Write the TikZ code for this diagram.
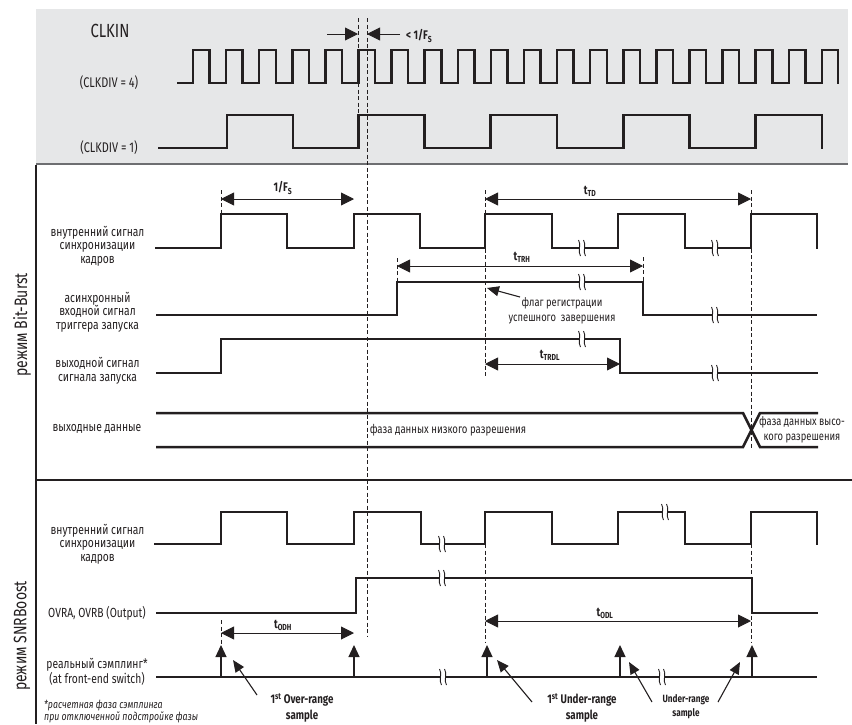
\documentclass[tikz,border=0pt]{standalone}
\usepackage{fontspec}
\setmainfont{Fira Sans}[FakeStretch=0.78]
\usetikzlibrary{arrows.meta}
\definecolor{ink}{HTML}{231F20}
\definecolor{panel}{HTML}{E6E7E8}
\definecolor{rim}{HTML}{6D6E71}
\tikzset{
  wave/.style={ink, line width=2.5pt, line join=miter},
  dimline/.style={ink, line width=0.9pt, {Triangle[length=13pt,width=13pt]}-{Triangle[length=13pt,width=13pt]}},
  dimright/.style={ink, line width=0.9pt, -{Triangle[length=13pt,width=13pt]}},
  guide/.style={ink, line width=0.8pt, dash pattern=on 4pt off 2.5pt},
  sampl/.style={ink, line width=1.3pt, -{Triangle[length=12pt,width=11pt]}},
  annot/.style={ink, line width=1.1pt, -{Triangle[length=12pt,width=10pt]}},
  lbl/.style={ink, font=\fontsize{13.2}{13.6}\selectfont, align=center, inner sep=0pt},
  dlbl/.style={ink, font=\fontsize{12.5}{13}\selectfont\bfseries, inner sep=0pt},
  sidelbl/.style={ink, font=\fontsize{18}{19}\selectfont, rotate=90, inner sep=0pt},
}
\newcommand\brkmark[2]{%
  \fill[white] (#1-3.2,#2-4.5) rectangle (#1+3.2,#2+4.5);
  \draw[ink, line width=0.9pt] (#1-3.5,#2-8) .. controls (#1-0.3,#2-4) and (#1-4.7,#2+4) .. (#1-1.5,#2+8);
  \draw[ink, line width=0.9pt] (#1+1.5,#2-8) .. controls (#1+4.7,#2-4) and (#1+0.3,#2+4) .. (#1+3.5,#2+8);
}
\begin{document}
\begin{tikzpicture}[x=1pt, y=-1pt]
\useasboundingbox (0,0) rectangle (852,724);
% panels
\fill[panel] (36,9) rectangle (848,164);
\draw[rim, line width=2pt] (36,164) -- (848,164);
\draw[ink, line width=1.2pt] (36,165) -- (36,724);
\draw[ink, line width=1.6pt] (36,480) -- (852,480);

% long guides
\draw[guide] (358.3,18) -- (358.3,114);
\draw[guide] (367,18) -- (367,637);

% CLKIN
\node[ink, font=\fontsize{19}{20}\selectfont, inner sep=0pt] (clkin) at (110,31) {CLKIN};
\node[lbl, font=\fontsize{14}{14}\selectfont] (div4) at (109,83) {(CLKDIV = 4)};
\node[lbl, font=\fontsize{14}{14}\selectfont] (div1) at (109,148) {(CLKDIV = 1)};
\draw[wave] (177,83) \foreach \k in {0,...,18} { -- ({193+33.1*\k},83) -- ({193+33.1*\k},50) -- ({209.6+33.1*\k},50) -- ({209.6+33.1*\k},83) } -- (822,83) -- (822,50) -- (838,50) -- (838,84.2);
\draw[wave] (158,148) -- (227,148) -- (227,115) -- (293,115) -- (293,148) -- (358.5,148) -- (358.5,115) -- (424.5,115) -- (424.5,148) -- (490.5,148) -- (490.5,115) -- (557,115) -- (557,148) -- (623.3,148) -- (623.3,115) -- (689.5,115) -- (689.5,148) -- (755.7,148) -- (755.7,115) -- (822,115) -- (822,149.2);
\coordinate (fa1) at (327,34); \coordinate (fa2) at (358,34);
\coordinate (fb1) at (400,34); \coordinate (fb2) at (367,34);
\draw[dimright] (fa1) -- (fa2);
\draw[dimright] (fb1) -- (fb2);
\node[dlbl, anchor=west] (fslbl) at (406,36) {< 1/F\textsubscript{S}};

% ---------- Bit-Burst ----------
\node[sidelbl] (bbside) at (22,325) {режим Bit-Burst};
\node[lbl] (bb1) at (97.5,246) {внутренний сигнал\\синхронизации\\кадров};
\node[lbl] (bb2) at (97.5,312) {асинхронный\\входной сигнал\\триггера запуска};
\node[lbl] (bb3) at (97.5,370.5) {выходной сигнал\\сигнала запуска};
\node[lbl] (bb4) at (97,429) {выходные данные};

\draw[guide] (221,190) -- (221,214);
\draw[guide] (485,190) -- (485,378);
\draw[guide] (751,190) -- (751,448);
\draw[guide] (397,258) -- (397,282);
\draw[guide] (643,257) -- (643,282);

\draw[wave] (155,248) -- (221,248) -- (221,214) -- (287,214) -- (287,248) -- (354,248) -- (354,214) -- (420,214) -- (420,248) -- (485,248) -- (485,214) -- (552,214) -- (552,248) -- (618,248) -- (618,214) -- (685,214) -- (685,248) -- (751,248) -- (751,214) -- (817,214) -- (817,249.2);
\brkmark{582}{248}\brkmark{715}{248}
\draw[wave] (156,315) -- (397,315) -- (397,282) -- (643,282) -- (643,315) -- (817,315);
\brkmark{582}{282}\brkmark{715}{315}
\draw[wave] (156,373) -- (221,373) -- (221,339) -- (620,339) -- (620,373) -- (818,373);
\brkmark{582}{339}\brkmark{715}{373}
\draw[wave] (156,413) -- (743,413) -- (760,447) -- (818,447);
\draw[wave] (156,447) -- (743,447) -- (760,413) -- (818,413);

\coordinate (fs1) at (221,199); \coordinate (fs2) at (354,199);
\draw[dimline] (fs1) -- (fs2);
\node[dlbl] (fslbl2) at (283,188) {1/F\textsubscript{S}};
\coordinate (td1) at (485,199); \coordinate (td2) at (751,199);
\draw[dimline] (td1) -- (td2);
\node[dlbl] (tdlbl) at (590,191) {t\textsubscript{TD}};
\coordinate (trh1) at (397,266); \coordinate (trh2) at (643,266);
\draw[dimline] (trh1) -- (trh2);
\node[dlbl] (trhlbl) at (522,257) {t\textsubscript{TRH}};
\coordinate (trdl1) at (485,364); \coordinate (trdl2) at (620,364);
\draw[dimline] (trdl1) -- (trdl2);
\node[dlbl] (trdllbl) at (550,355) {t\textsubscript{TRDL}};

\node[lbl, font=\fontsize{12}{15}\selectfont] (flag) at (562,310.5) {флаг регистрации\\успешного\ \ завершения};
\coordinate (flagtip) at (487,288);
\draw[annot] (520,297) -- (flagtip);

\node[lbl, font=\fontsize{12.3}{13}\selectfont] (low) at (448,430) {фаза данных низкого разрешения};
\node[lbl, font=\fontsize{12}{14.5}\selectfont] (high) at (802,430) {фаза данных высо-\\кого разрешения};

% ---------- SNRBoost ----------
\node[sidelbl] (snrside) at (22,636) {режим SNRBoost};
\node[lbl] (s1) at (97.5,544) {внутренний сигнал\\синхронизации\\кадров};
\node[lbl] (s2) at (97,613) {OVRA, OVRB (Output)};
\node[lbl] (s3) at (97,671.5) {реальный сэмплинг*\\(at front-end switch)};
\node[lbl, font=\fontsize{11.2}{12}\selectfont\itshape, align=left, anchor=west] (foot) at (44,711) {*расчетная фаза сэмплинга\\при отключенной подстройке фазы};

\draw[guide] (485,544) -- (485,643);
\draw[guide] (751,544) -- (751,643);
\draw[guide] (221,620) -- (221,646);

\draw[wave] (154,544) -- (221,544) -- (221,512) -- (287,512) -- (287,544) -- (354,544) -- (354,512) -- (421,512) -- (421,544) -- (485,544) -- (485,512) -- (552,512) -- (552,544) -- (618,544) -- (618,512) -- (685,512) -- (685,544) -- (751,544) -- (751,512) -- (817,512) -- (817,545.2);
\brkmark{442}{544}\brkmark{665}{512}
\draw[wave] (156,613) -- (356,613) -- (356,578) -- (752,578) -- (752,613) -- (818,613);
\brkmark{442}{578}
\draw[wave] (156,677) -- (817,677);
\brkmark{443}{677}\brkmark{662}{677}
\foreach \sx in {221,354,487,620,752} {
  \draw[sampl] (\sx,676) -- (\sx,645);
}

\coordinate (odh1) at (221,633); \coordinate (odh2) at (354,633);
\draw[dimline] (odh1) -- (odh2);
\node[dlbl] (odhlbl) at (283,625) {t\textsubscript{ODH}};
\coordinate (odl1) at (485,621); \coordinate (odl2) at (751,621);
\draw[dimline] (odl1) -- (odl2);
\node[dlbl] (odllbl) at (605,613) {t\textsubscript{ODL}};

\node[dlbl, align=center, font=\fontsize{12.5}{15.5}\selectfont\bfseries] (over) at (302,708) {1\textsuperscript{st} Over-range\\sample};
\node[dlbl, align=center, font=\fontsize{12.5}{15.5}\selectfont\bfseries] (under1) at (582,708) {1\textsuperscript{st} Under-range\\sample};
\node[dlbl, align=center, font=\fontsize{10.5}{14}\selectfont\bfseries] (under2) at (686,707) {Under-range\\sample};
\coordinate (ov0) at (257,695); \coordinate (ov1) at (233,660);
\draw[annot] (ov0) -- (ov1);
\coordinate (un0) at (532,702); \coordinate (un1) at (497,660);
\draw[annot] (un0) -- (un1);
\coordinate (ua0) at (652,702); \coordinate (ua1) at (629,662);
\draw[annot] (ua0) -- (ua1);
\coordinate (ub0) at (718,702); \coordinate (ub1) at (740,662);
\draw[annot] (ub0) -- (ub1);
\end{tikzpicture}
\end{document}
